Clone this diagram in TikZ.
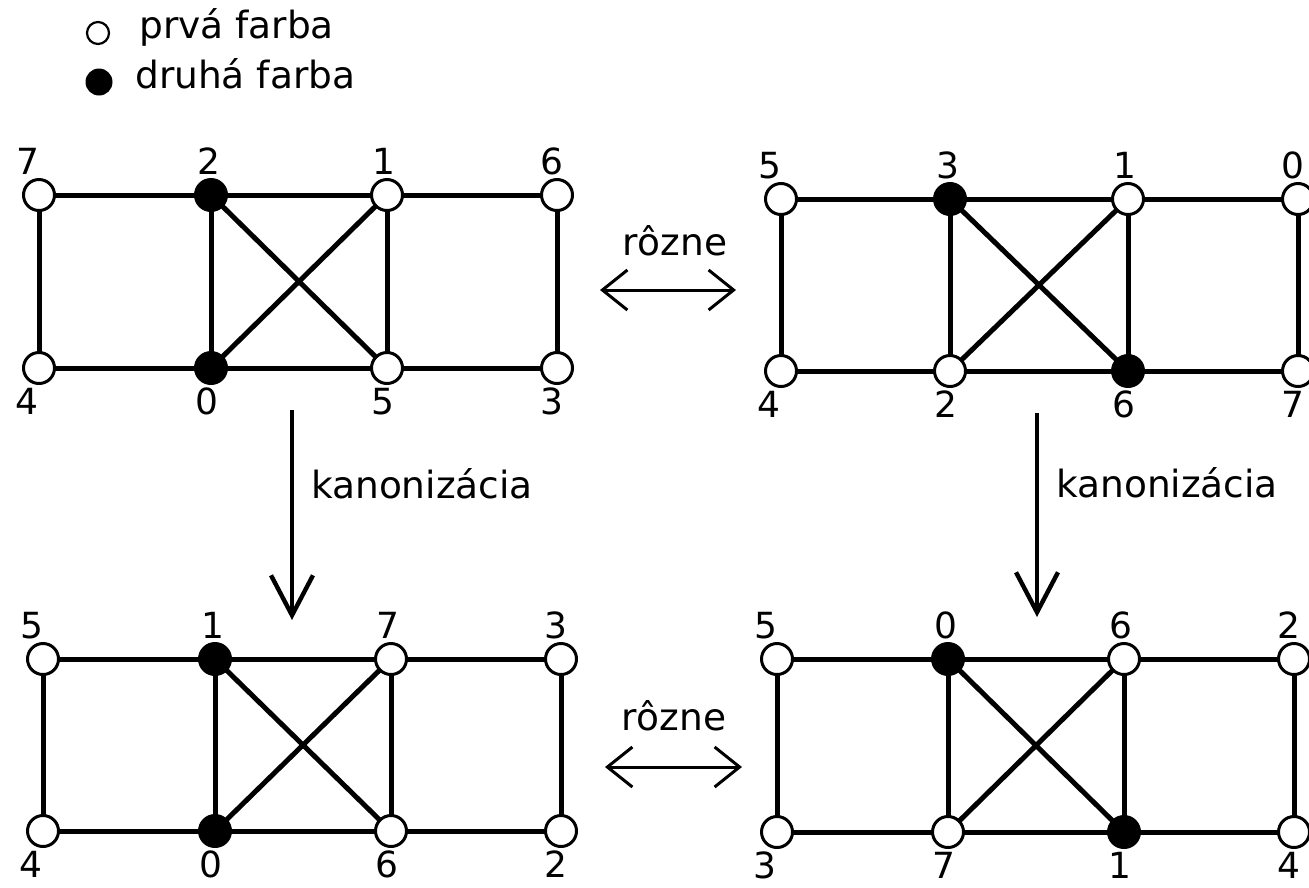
\documentclass[tikz,border=0pt]{standalone}
\usepackage{fontspec}
\setmainfont{DejaVu Sans}
\usetikzlibrary{arrows.meta,backgrounds}

\tikzset{
  vx/.style={circle, draw=black, line width=3pt, minimum size=31pt, inner sep=0pt},
  vw/.style={vx, fill=white},
  vb/.style={vx, fill=black},
  lbl/.style={inner sep=0pt, font=\fontsize{36}{43}\selectfont},
  gedge/.style={line width=5pt},
  txt/.style={inner sep=0pt, font=\fontsize{37.5}{45}\selectfont},
  harrow/.style={line width=3pt, arrows={Straight Barb[length=25pt,width=40pt]-Straight Barb[length=25pt,width=40pt]}},
  varrow/.style={line width=4.4pt, arrows={-Straight Barb[length=40pt,width=42pt]}},
}

% #1 prefix, #2-#5 column x, #6 top y, #7 bottom y,
% #8 top row  label/colour, #9 bottom row label/colour
\newcommand\ladder[9]{%
  \foreach \lab/\col [count=\i] in {#8}{%
    \pgfmathsetmacro\xx{{#2,#3,#4,#5}[\i-1]}%
    \pgfmathsetmacro\sh{{-11,-2,-3,-5}[\i-1]}%
    \node[v\col, label={[lbl,label distance=3pt,xshift=\sh pt]above:\lab}] (#1t\i) at (\xx,#6) {};
  }%
  \foreach \lab/\col [count=\i] in {#9}{%
    \pgfmathsetmacro\xx{{#2,#3,#4,#5}[\i-1]}%
    \pgfmathsetmacro\sh{{-12,-4,-4,-5}[\i-1]}%
    \node[v\col, label={[lbl,label distance=3pt,xshift=\sh pt]below:\lab}] (#1b\i) at (\xx,#7) {};
  }%
  \begin{scope}[on background layer]
    \draw[gedge] (#1t1.center) -- (#1t4.center) -- (#1b4.center) -- (#1b1.center) -- cycle;
    \draw[gedge] (#1t2.center) -- (#1b2.center);
    \draw[gedge] (#1t3.center) -- (#1b3.center);
    \draw[gedge] (#1t2.center) -- (#1b3.center);
    \draw[gedge] (#1b2.center) -- (#1t3.center);
  \end{scope}%
}

\begin{document}
\begin{tikzpicture}[x=1pt, y=-1pt]
  \useasboundingbox (0,0) rectangle (1309,887);

  % legend
  \node[circle, draw, line width=2.2pt, minimum size=22pt, inner sep=0pt, fill=white] (legw) at (98,33) {};
  \node[txt, anchor=base west] (legwt) at (139,38) {prvá farba};
  \node[circle, fill=black, minimum size=27pt, inner sep=0pt] (legb) at (99,82) {};
  \node[txt, anchor=base west] (legbt) at (135,88) {druhá farba};

  % the four coloured graphs
  \ladder{A}{39}{211}{387}{557}{195}{368}{7/w,2/b,1/w,6/w}{4/w,0/b,5/w,3/w}
  \ladder{B}{781}{950}{1128}{1298}{199}{371}{5/w,3/b,1/w,0/w}{4/w,2/w,6/b,7/w}
  \ladder{C}{43}{215}{391}{561}{659}{831}{5/w,1/b,7/w,3/w}{4/w,0/b,6/w,2/w}
  \ladder{D}{777}{948}{1124}{1294}{659}{832}{5/w,0/b,6/w,2/w}{3/w,7/w,1/b,4/w}

  % relation arrows
  \coordinate (h1a) at (600,290);
  \coordinate (h1b) at (736,290);
  \draw[harrow] (h1a) -- (h1b);
  \node[txt, anchor=base] (h1t) at (675,255) {rôzne};

  \coordinate (h2a) at (605,767);
  \coordinate (h2b) at (742,767);
  \draw[harrow] (h2a) -- (h2b);
  \node[txt, anchor=base] (h2t) at (674,730) {rôzne};

  \coordinate (v1a) at (292,410);
  \coordinate (v1b) at (292,620);
  \draw[varrow] (v1a) -- (v1b);
  \node[txt, anchor=base west] (v1t) at (311,498) {kanonizácia};

  \coordinate (v2a) at (1037,413);
  \coordinate (v2b) at (1037,617);
  \draw[varrow] (v2a) -- (v2b);
  \node[txt, anchor=base west] (v2t) at (1056,497) {kanonizácia};
\end{tikzpicture}
\end{document}
